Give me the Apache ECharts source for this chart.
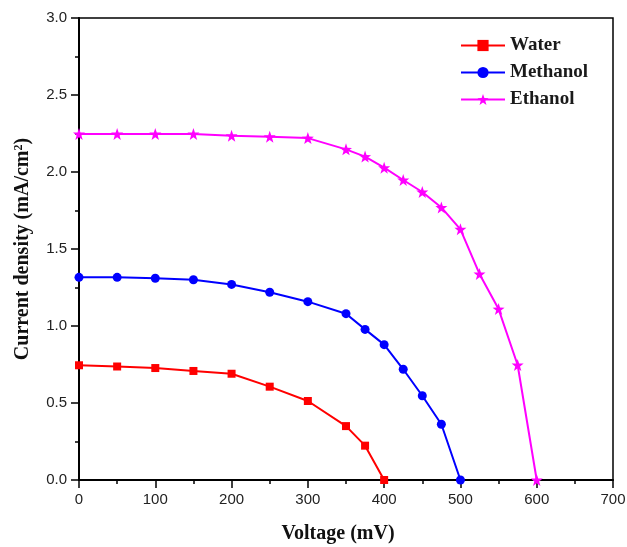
<!DOCTYPE html>
<html>
<head>
<meta charset="utf-8">
<script src="https://cdn.jsdelivr.net/npm/echarts@6/dist/echarts.min.js"></script>
<style>html,body{margin:0;padding:0;background:#fff}#c{width:627px;height:547px}</style>
</head>
<body>
<div id="c"></div>
<script>
const waterV = [0, 50, 100, 150, 200, 250, 300, 350, 375, 400];
const waterJ = [0.745, 0.737, 0.727, 0.708, 0.69, 0.606, 0.513, 0.35, 0.223, 0];
const methV = [0, 50, 100, 150, 200, 250, 300, 350, 375, 400, 425, 450, 475, 500];
const methJ = [1.316, 1.316, 1.31, 1.30, 1.27, 1.219, 1.158, 1.08, 0.978, 0.879, 0.719, 0.547, 0.362, 0];
const ethV = [0, 50, 100, 150, 200, 250, 300, 350, 375, 400, 425, 450, 475, 500, 525, 550, 575, 600];
const ethJ = [2.247, 2.247, 2.247, 2.247, 2.236, 2.229, 2.22, 2.147, 2.10, 2.028, 1.948, 1.87, 1.77, 1.628, 1.338, 1.11, 0.747, 0];
const seriesNames = ['Water', 'Methanol', 'Ethanol'];
const xTitle = 'Voltage (mV)';
const yTitle = 'Current density (mA/cm{sup|2})';

const star = 'path://M0,-10 L2.35,-3.24 L9.51,-3.09 L3.8,1.24 L5.88,8.09 L0,4 L-5.88,8.09 L-3.8,1.24 L-9.51,-3.09 L-2.35,-3.24 Z';
const zip = (a, b) => a.map((v, i) => [v, b[i]]);

const chart = echarts.init(document.getElementById('c'));
const serif = '"Liberation Serif", "Times New Roman", serif';
const sans = '"Liberation Sans", Arial, sans-serif';
chart.setOption({
  animation: false,
  backgroundColor: '#fff',
  grid: { left: 79, right: 14, top: 18, bottom: 67, show: true, borderColor: '#000', borderWidth: 1.5,
    outerBoundsMode: 'none', containLabel: false },
  legend: {
    orient: 'vertical', left: 455, top: 31,
    itemWidth: 44, itemHeight: 14, itemGap: 8,
    textStyle: { fontFamily: serif, fontWeight: 'bold', fontSize: 19, color: '#1a1a1a' },
    data: seriesNames
  },
  xAxis: {
    type: 'value', min: 0, max: 700, interval: 100,
    name: xTitle, nameLocation: 'middle', nameGap: 44,
    nameTextStyle: { fontFamily: serif, fontWeight: 'bold', fontSize: 20, color: '#111', padding: [0, 16, 0, 0] },
    axisLine: { show: true, lineStyle: { color: '#000', width: 2 } },
    axisTick: { show: true, inside: false, length: 8, lineStyle: { color: '#000', width: 1.5 } },
    minorTick: { show: true, splitNumber: 2, length: 4, lineStyle: { color: '#000', width: 1.5 } },
    axisLabel: { fontFamily: sans, fontSize: 15, color: '#222', margin: 12 },
    splitLine: { show: false }
  },
  yAxis: {
    type: 'value', min: 0, max: 3, interval: 0.5,
    name: yTitle, nameLocation: 'middle', nameGap: 46, nameRotate: 90,
    nameTextStyle: { fontFamily: serif, fontWeight: 'bold', fontSize: 20, color: '#111',
      rich: { sup: { fontFamily: serif, fontWeight: 'bold', fontSize: 12, color: '#111', verticalAlign: 'top', padding: [0, 0, 8, 0] } } },
    axisLine: { show: true, lineStyle: { color: '#000', width: 2 } },
    axisTick: { show: true, inside: false, length: 8, lineStyle: { color: '#000', width: 1.5 } },
    minorTick: { show: true, splitNumber: 2, length: 4, lineStyle: { color: '#000', width: 1.5 } },
    axisLabel: { fontFamily: sans, fontSize: 15, color: '#222', margin: 12, formatter: v => v.toFixed(1) },
    splitLine: { show: false }
  },
  series: [
    { name: seriesNames[0], type: 'line', data: zip(waterV, waterJ), symbol: 'rect', symbolSize: 8,
      itemStyle: { color: '#ff0000' }, lineStyle: { color: '#ff0000', width: 2 } },
    { name: seriesNames[1], type: 'line', data: zip(methV, methJ), symbol: 'circle', symbolSize: 9,
      itemStyle: { color: '#0000ff' }, lineStyle: { color: '#0000ff', width: 2 } },
    { name: seriesNames[2], type: 'line', data: zip(ethV, ethJ), symbol: star, symbolSize: 12,
      itemStyle: { color: '#ff00ff' }, lineStyle: { color: '#ff00ff', width: 2 } }
  ]
});
</script>
</body>
</html>
